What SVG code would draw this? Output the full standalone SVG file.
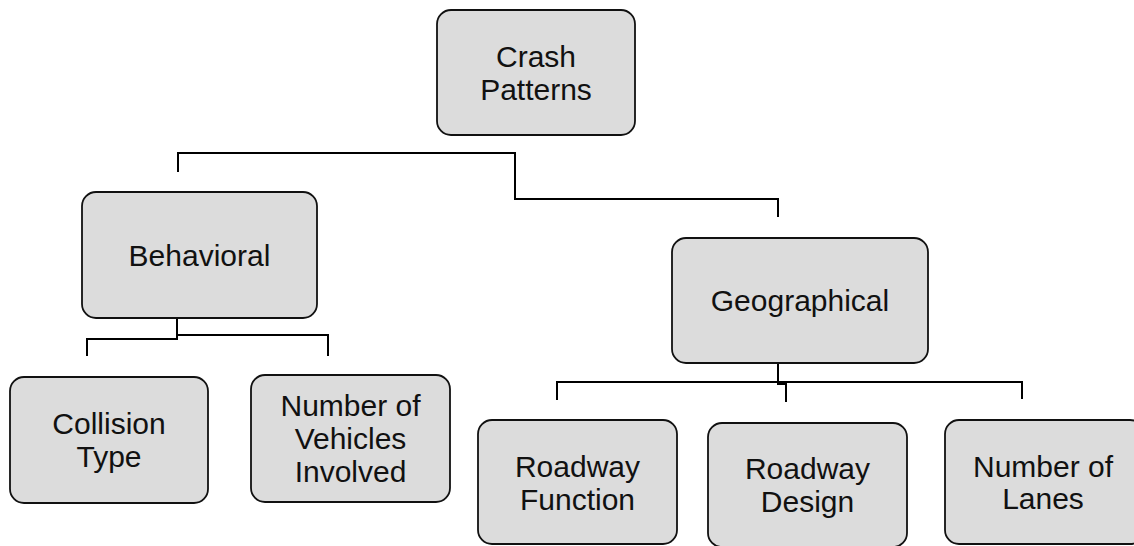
<svg xmlns="http://www.w3.org/2000/svg" width="1134" height="546" viewBox="0 0 1134 546">
<style>
.box{fill:#dcdcdc;stroke:#111;stroke-width:1.8}
.lbl{font-family:"Liberation Sans",Arial,sans-serif;font-size:30px;fill:#111;text-anchor:middle}
.con{fill:none;stroke:#000;stroke-width:2}
</style>
<rect width="1134" height="546" fill="#fff"/>
<g id="connectors">
<path class="con" d="M178,172 V153 H515 V199 H778 V217"/>
<line x1="177" y1="297" x2="177" y2="318" stroke="#bdbdbd" stroke-width="2"/>
<path class="con" d="M87,356 V339 H177 V318 M177,337 V335 H328 V356"/>
<path class="con" d="M557,400 V382 H1022 V399 M778,363 V384 H786 V402"/>
</g>
<g id="crash-patterns">
<rect class="box" x="437" y="10" width="198" height="125" rx="14"/>
<text class="lbl" x="536" y="67">Crash</text>
<text class="lbl" x="536" y="100">Patterns</text>
</g>
<g id="behavioral">
<rect class="box" x="82" y="192" width="235" height="126" rx="14"/>
<text class="lbl" x="199.5" y="266">Behavioral</text>
</g>
<g id="geographical">
<rect class="box" x="672" y="238" width="256" height="125" rx="14"/>
<text class="lbl" x="800" y="311">Geographical</text>
</g>
<g id="collision-type">
<rect class="box" x="10" y="377" width="198" height="126" rx="14"/>
<text class="lbl" x="109" y="434">Collision</text>
<text class="lbl" x="109" y="467">Type</text>
</g>
<g id="number-of-vehicles">
<rect class="box" x="251" y="375" width="199" height="127" rx="14"/>
<text class="lbl" x="350.5" y="416">Number of</text>
<text class="lbl" x="350.5" y="449">Vehicles</text>
<text class="lbl" x="350.5" y="482">Involved</text>
</g>
<g id="roadway-function">
<rect class="box" x="478" y="420" width="199" height="124" rx="14"/>
<text class="lbl" x="577.5" y="477">Roadway</text>
<text class="lbl" x="577.5" y="510">Function</text>
</g>
<g id="roadway-design">
<rect class="box" x="708" y="423" width="199" height="124" rx="14"/>
<text class="lbl" x="807.5" y="479">Roadway</text>
<text class="lbl" x="807.5" y="512">Design</text>
</g>
<g id="number-of-lanes">
<rect class="box" x="945" y="420" width="199" height="124" rx="14"/>
<text class="lbl" x="1043" y="477">Number of</text>
<text class="lbl" x="1043" y="509">Lanes</text>
</g>
</svg>
